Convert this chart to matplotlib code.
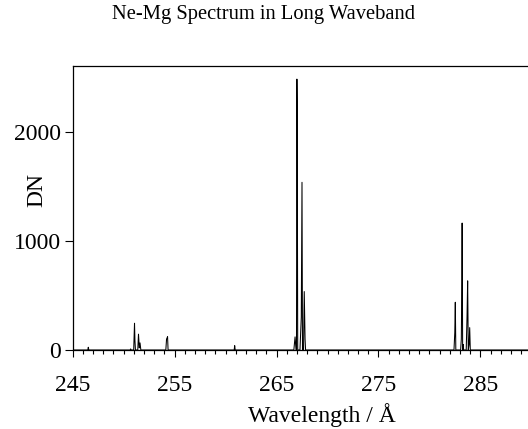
import matplotlib
matplotlib.use('Agg')
import matplotlib.pyplot as plt
from matplotlib.ticker import MultipleLocator

# --- DADOS ---
wavelength = [245.0,
              246.50, 246.55, 246.60,
              250.65, 250.70, 250.75,
              251.00, 251.08, 251.12, 251.17,
              251.40, 251.47, 251.55, 251.62, 251.70,
              254.15, 254.22, 254.27, 254.32, 254.37,
              260.85, 260.90, 260.95,
              266.70, 266.82, 266.92, 266.96, 267.00, 267.03, 267.08,
              267.30, 267.43, 267.50, 267.55, 267.65, 267.72, 267.80, 267.85,
              282.40, 282.48, 282.53, 282.58,
              283.05, 283.12, 283.17, 283.20, 283.25, 283.30, 283.35,
              283.60, 283.68, 283.74, 283.80, 283.88, 283.94, 284.00,
              290.0]
dn = [0,
      0, 25, 0,
      0, 10, 0,
      0, 245, 90, 0,
      0, 145, 20, 65, 0,
      0, 100, 110, 122, 0,
      0, 40, 0,
      0, 120, 0, 0, 2480, 2150, 0,
      0, 300, 1535, 0, 0, 535, 100, 0,
      0, 160, 437, 0,
      0, 100, 615, 1162, 0, 50, 0,
      0, 305, 633, 0, 50, 205, 0,
      0]

titulo = 'Ne-Mg Spectrum in Long Waveband'
x_ticks = [245, 255, 265, 275, 285]
y_ticks = [0, 1000, 2000]

plt.rcParams['font.family'] = ['Liberation Serif', 'DejaVu Serif']

fig = plt.figure(figsize=(5.28, 4.29), dpi=100)
left = 72.5 / 528
width = 45 * 10.2 / 528
ax = fig.add_axes([left, 79 / 429, width, 284 / 429])

ax.plot(wavelength, dn, color='black', linewidth=0.75)

ax.set_xlim(245, 290)
ax.set_ylim(0, 2600)
ax.set_xticks(x_ticks)
ax.xaxis.set_minor_locator(MultipleLocator(1))
ax.set_yticks(y_ticks)

ax.tick_params(axis='x', which='major', direction='out', length=5, width=0.8, pad=13, labelsize=17)
ax.tick_params(axis='x', which='minor', direction='out', length=3, width=0.8)
ax.tick_params(axis='y', which='major', direction='out', length=5.5, width=0.8, pad=3, labelsize=17)
for s in ax.spines.values():
    s.set_linewidth(0.9)

ax.set_xlabel('Wavelength / Å', fontsize=17, va='center')
ax.xaxis.set_label_coords((321.7 - 72.5) / 459, (350 - 415) / 284)
ax.set_ylabel('DN', fontsize=17, va='center')
ax.yaxis.set_label_coords((37 - 72.5) / 459, (350 - 190) / 284)
fig.text(263 / 528, 1 - 15 / 429, titulo, ha='center', va='center', fontsize=14.8)

fig.savefig('out.png', dpi=100)
